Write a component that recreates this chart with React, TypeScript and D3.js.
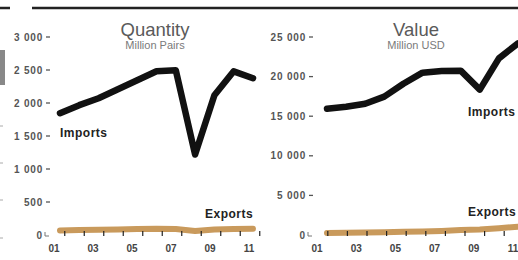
import React, { useEffect, useRef } from "react";
import * as d3 from "d3";

const years = [2001, 2002, 2003, 2004, 2005, 2006, 2007, 2008, 2009, 2010, 2011];
const yearLabels = ["01", "03", "05", "07", "09", "11"];

const qtyImports = [1846, 1967, 2073, 2209, 2345, 2481, 2496, 1220, 2118, 2480, 2375];
const qtyExports = [70, 75, 80, 85, 90, 95, 90, 60, 85, 90, 95];
const qtyTicks = [0, 500, 1000, 1500, 2000, 2500, 3000];

const valImports = [15950, 16200, 16580, 17470, 19100, 20500, 20700, 20750, 18350, 22300, 24200];
const valExports = [250, 280, 320, 360, 400, 450, 520, 620, 680, 850, 1050];
const valTicks = [0, 5000, 10000, 15000, 20000, 25000];

const WIDTH = 518;
const HEIGHT = 260;
const FONT = "'Liberation Sans', Arial, sans-serif";

const fmt = (v: number) => d3.format(",")(v).replace(/,/g, " ");

const App = () => {
  const ref: any = useRef(null);

  useEffect(() => {
    d3.select(ref.current).selectAll("*").remove();
    const svg = d3
      .select(ref.current)
      .append("svg")
      .attr("width", WIDTH)
      .attr("height", HEIGHT)
      .style("position", "absolute")
      .style("left", "0px")
      .style("top", "0px")
      .style("background", "#fff");

    // top rule and leftovers of the neighbouring chart
    svg.append("line").attr("x1", 0).attr("x2", 10).attr("y1", 8).attr("y2", 8)
      .attr("stroke", "#222").attr("stroke-width", 2.5);
    svg.append("line").attr("x1", 32).attr("x2", WIDTH).attr("y1", 8).attr("y2", 8)
      .attr("stroke", "#222").attr("stroke-width", 2.5);
    svg.append("rect").attr("x", 0).attr("y", 50).attr("width", 5).attr("height", 35).attr("fill", "#888");
    [126, 163, 200, 238].forEach((y) =>
      svg.append("line").attr("x1", 0).attr("x2", 3).attr("y1", y).attr("y2", y)
        .attr("stroke", "#aaa").attr("stroke-width", 1)
    );

    const panel = (opts: any) => {
      const { axisX, labelRange, dataRange, yMax, ticks, imports, exports, title, subtitle, titleX, importsPos, exportsPos } = opts;
      const g = svg.append("g");

      const xLabel = d3.scaleLinear().domain([2001, 2011]).range(labelRange);
      const x = d3.scaleLinear().domain([2001, 2011]).range(dataRange);
      const y = d3.scaleLinear().domain([0, yMax]).range([235, 37]);

      // title
      g.append("text").attr("x", titleX).attr("y", 36).attr("text-anchor", "middle")
        .attr("font-family", FONT).attr("font-size", 18.5).attr("font-weight", 300)
        .attr("fill", "#5a5a5a").text(title);
      g.append("text").attr("x", titleX).attr("y", 49).attr("text-anchor", "middle")
        .attr("font-family", FONT).attr("font-size", 11).attr("fill", "#7a7a7a").text(subtitle);

      // y labels
      ticks.forEach((t: number) => {
        if (t === 0) {
          g.append("text").attr("x", axisX - 8).attr("y", y(t) + 3.5).attr("text-anchor", "end")
            .attr("font-family", FONT).attr("font-size", 10).attr("font-weight", "bold")
            .attr("fill", "#555").text("0");
          g.append("path")
            .attr("d", `M${axisX - 5},${y(t) - 3}V${y(t) + 1}H${axisX - 1}`)
            .attr("fill", "none").attr("stroke", "#777").attr("stroke-width", 1);
        } else {
          g.append("text").attr("x", axisX - 7).attr("y", y(t) + 3.5).attr("text-anchor", "end")
            .attr("font-family", FONT).attr("font-size", 10).attr("font-weight", "bold")
            .attr("letter-spacing", 0.8).attr("fill", "#555").text(fmt(t));
          g.append("line").attr("x1", axisX - 4).attr("x2", axisX).attr("y1", y(t)).attr("y2", y(t))
            .attr("stroke", "#555").attr("stroke-width", 1.3);
        }
      });

      // x labels
      yearLabels.forEach((l) => {
        const yr = 2000 + +l;
        g.append("text").attr("x", xLabel(yr)).attr("y", 252).attr("text-anchor", "middle")
          .attr("font-family", FONT).attr("font-size", 10).attr("font-weight", "bold")
          .attr("fill", "#444").text(l);
      });

      const line = d3.line<number>()
        .x((_, i) => x(years[i]))
        .y((d) => y(d));

      g.append("path").datum(exports).attr("d", line).attr("fill", "none")
        .attr("stroke", "#c99a5c").attr("stroke-width", 6)
        .attr("stroke-linecap", "round").attr("stroke-linejoin", "round");

      // small ticks sitting on the exports line
      years.forEach((yr) => {
        const tx = xLabel(yr + 0.5) + 1;
        g.append("line").attr("x1", tx).attr("x2", tx).attr("y1", 231).attr("y2", 236)
          .attr("stroke", "#222").attr("stroke-width", 1.2);
      });

      g.append("path").datum(imports).attr("d", line).attr("fill", "none")
        .attr("stroke", "#111").attr("stroke-width", 6.5)
        .attr("stroke-linecap", "round").attr("stroke-linejoin", "round");

      g.append("text").attr("x", importsPos[0]).attr("y", importsPos[1])
        .attr("font-family", FONT).attr("font-size", 12).attr("font-weight", "bold")
        .attr("letter-spacing", 0.5).attr("fill", "#222").text("Imports");
      g.append("text").attr("x", exportsPos[0]).attr("y", exportsPos[1])
        .attr("font-family", FONT).attr("font-size", 12).attr("font-weight", "bold")
        .attr("letter-spacing", 0.5).attr("fill", "#222").text("Exports");
    };

    panel({
      axisX: 50, labelRange: [54, 249], dataRange: [60, 253], yMax: 3000,
      ticks: qtyTicks, imports: qtyImports, exports: qtyExports,
      title: "Quantity", subtitle: "Million Pairs", titleX: 155,
      importsPos: [60, 137], exportsPos: [205, 218],
    });
    panel({
      axisX: 313, labelRange: [317, 513], dataRange: [327, 518], yMax: 25000,
      ticks: valTicks, imports: valImports, exports: valExports,
      title: "Value", subtitle: "Million USD", titleX: 416,
      importsPos: [468, 116], exportsPos: [468, 216],
    });
  }, []);

  return <div id="chart" ref={ref}></div>;
};

export default App;
